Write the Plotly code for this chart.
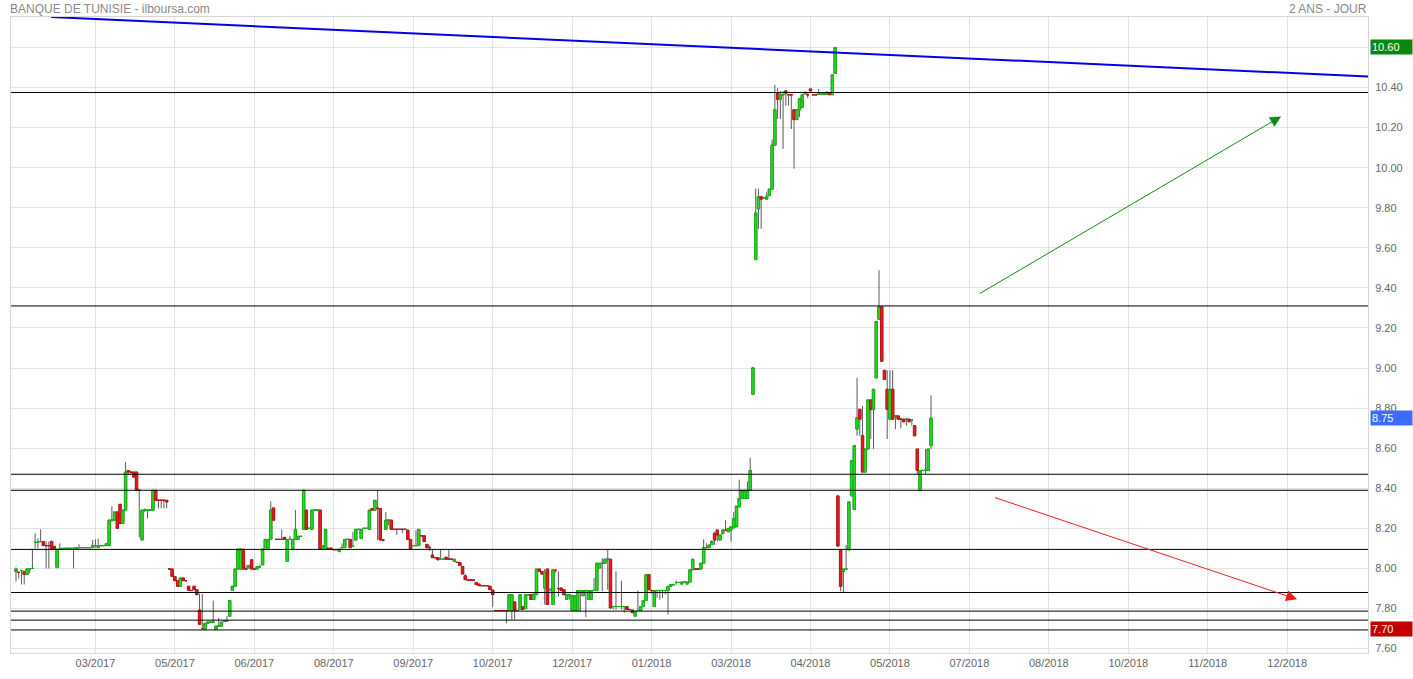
import plotly.graph_objects as go

title_left = "BANQUE DE TUNISIE - ilboursa.com"
title_right = "2 ANS - JOUR"

# daily OHLC (one entry per trading session)
O = [
 7.985, 7.98, 7.99, 7.985, 7.97, 7.997, 8.0, 8.13, 8.13, 8.134,
 8.134, 8.114, 8.114, 8.134, 8.11, 8.005, 8.096, 8.1, 8.1, 8.1,
 8.1, 8.1, 8.096, 8.104, 8.104, 8.104, 8.104, 8.104, 8.104, 8.114,
 8.104, 8.114, 8.114, 8.114, 8.114, 8.241, 8.241, 8.282, 8.32, 8.224,
 8.291, 8.489, 8.48, 8.481, 8.481, 8.39, 8.142, 8.291, 8.291, 8.291,
 8.291, 8.39, 8.34, 8.34, 8.34, 8.34, 7.997, 7.997, 7.96, 7.939,
 7.911, 7.952, 7.939, 7.911, 7.89, 7.911, 7.894, 7.792, 7.7, 7.696,
 7.726, 7.732, 7.732, 7.696, 7.712, 7.712, 7.737, 7.737, 7.762, 7.891,
 7.911, 7.997, 7.997, 8.096, 7.997, 8.002, 8.043, 7.997, 7.997, 8.008,
 8.018, 8.096, 8.096, 8.145, 8.302, 8.145, 8.145, 8.145, 8.155, 8.035,
 8.145, 8.096, 8.145, 8.145, 8.16, 8.195, 8.291, 8.2, 8.195, 8.291,
 8.291, 8.291, 8.096, 8.096, 8.1, 8.1, 8.094, 8.094, 8.084, 8.104,
 8.104, 8.145, 8.145, 8.11, 8.142, 8.195, 8.15, 8.2, 8.2, 8.195,
 8.299, 8.291, 8.3, 8.299, 8.142, 8.195, 8.241, 8.241, 8.195, 8.195,
 8.195, 8.195, 8.195, 8.191, 8.145, 8.114, 8.114, 8.114, 8.163, 8.163,
 8.12, 8.104, 8.067, 8.054, 8.054, 8.045, 8.048, 8.056, 8.046, 8.046,
 8.035, 8.03, 8.03, 8.01, 7.963, 7.942, 7.942, 7.942, 7.93, 7.922,
 7.914, 7.914, 7.914, 7.911, 7.892, 7.79, 7.79, 7.79, 7.79, 7.79,
 7.79, 7.79, 7.833, 7.79, 7.795, 7.81, 7.8, 7.869, 7.869, 7.845,
 7.869, 7.997, 7.985, 7.902, 7.997, 7.89, 7.82, 7.99, 7.9, 7.902,
 7.894, 7.845, 7.869, 7.79, 7.79, 7.79, 7.89, 7.864, 7.89, 7.845,
 7.845, 7.89, 7.89, 8.002, 8.026, 8.026, 8.046, 8.046, 7.81, 7.81,
 7.81, 7.81, 7.81, 7.81, 7.795, 7.792, 7.762, 7.79, 7.79, 7.81,
 7.84, 7.969, 7.89, 7.81, 7.89, 7.89, 7.89, 7.89, 7.89, 7.911,
 7.919, 7.93, 7.93, 7.922, 7.932, 7.922, 7.932, 7.993, 7.997, 7.997,
 7.997, 8.026, 8.104, 8.104, 8.12, 8.175, 8.192, 8.142, 8.175, 8.19,
 8.183, 8.192, 8.203, 8.208, 8.307, 8.349, 8.349, 8.349, 8.39, 8.869,
 9.541, 9.794, 9.855, 9.85, 9.843, 9.86, 9.893, 10.111, 10.372, 10.342,
 10.364, 10.383, 10.364, 10.364, 10.289, 10.24, 10.289, 10.302, 10.37, 10.364,
 10.393, 10.364, 10.364, 10.367, 10.367, 10.367, 10.367, 10.372, 10.364, 10.471,
 8.362, 8.092, 7.985, 7.997, 8.092, 8.362, 8.294, 8.695, 8.794, 8.662,
 8.481, 8.596, 8.841, 8.794, 8.951, 9.244, 9.306, 8.989, 8.894, 8.745,
 8.894, 8.761, 8.761, 8.745, 8.745, 8.745, 8.745, 8.74, 8.712, 8.596,
 8.391, 8.489, 8.49, 8.489, 8.613,
]
H = [
 8.005, 7.985, 7.99, 7.985, 8.0, 8.0, 8.096, 8.175, 8.15, 8.195,
 8.134, 8.134, 8.134, 8.14, 8.11, 8.096, 8.125, 8.1, 8.1, 8.105,
 8.1, 8.105, 8.105, 8.12, 8.104, 8.104, 8.104, 8.104, 8.142, 8.145,
 8.148, 8.114, 8.114, 8.124, 8.241, 8.31, 8.282, 8.282, 8.32, 8.291,
 8.53, 8.49, 8.48, 8.481, 8.481, 8.39, 8.291, 8.3, 8.291, 8.291,
 8.39, 8.39, 8.34, 8.34, 8.34, 8.34, 7.997, 7.997, 7.96, 7.939,
 7.952, 7.952, 7.939, 7.911, 7.89, 7.911, 7.894, 7.873, 7.873, 7.726,
 7.732, 7.732, 7.84, 7.712, 7.754, 7.732, 7.737, 7.762, 7.84, 7.911,
 7.997, 8.096, 8.096, 8.096, 8.015, 8.015, 8.043, 7.997, 8.008, 8.018,
 8.096, 8.145, 8.145, 8.335, 8.302, 8.145, 8.145, 8.195, 8.155, 8.145,
 8.163, 8.145, 8.291, 8.16, 8.16, 8.39, 8.291, 8.2, 8.291, 8.291,
 8.291, 8.291, 8.114, 8.195, 8.1, 8.106, 8.094, 8.094, 8.096, 8.125,
 8.145, 8.145, 8.145, 8.183, 8.195, 8.195, 8.195, 8.2, 8.2, 8.291,
 8.299, 8.34, 8.39, 8.299, 8.142, 8.282, 8.241, 8.241, 8.195, 8.195,
 8.195, 8.195, 8.195, 8.191, 8.145, 8.114, 8.191, 8.195, 8.163, 8.163,
 8.12, 8.114, 8.093, 8.054, 8.054, 8.093, 8.048, 8.056, 8.093, 8.046,
 8.046, 8.03, 8.03, 8.01, 7.972, 7.942, 7.942, 7.942, 7.93, 7.922,
 7.914, 7.914, 7.914, 7.911, 7.892, 7.79, 7.79, 7.79, 7.79, 7.79,
 7.869, 7.869, 7.833, 7.79, 7.869, 7.81, 7.869, 7.869, 7.869, 7.872,
 7.997, 7.997, 7.985, 7.997, 7.997, 7.902, 7.993, 7.997, 7.985, 7.902,
 7.894, 7.869, 7.869, 7.864, 7.864, 7.89, 7.89, 7.89, 7.89, 7.89,
 7.89, 7.952, 8.026, 8.026, 8.05, 8.046, 8.093, 8.046, 7.81, 7.985,
 7.81, 7.939, 7.81, 7.81, 7.795, 7.792, 7.783, 7.89, 7.81, 7.84,
 7.969, 7.969, 7.89, 7.89, 7.89, 7.89, 7.89, 7.89, 7.911, 7.919,
 7.919, 7.939, 7.93, 7.932, 7.932, 7.932, 7.993, 8.046, 7.997, 7.997,
 8.026, 8.145, 8.125, 8.117, 8.142, 8.183, 8.192, 8.167, 8.192, 8.241,
 8.2, 8.208, 8.282, 8.311, 8.443, 8.39, 8.39, 8.434, 8.552, 9.001,
 9.896, 9.896, 9.855, 9.85, 9.876, 9.893, 10.141, 10.413, 10.397, 10.383,
 10.383, 10.383, 10.364, 10.364, 10.289, 10.289, 10.344, 10.364, 10.383, 10.372,
 10.393, 10.364, 10.364, 10.393, 10.367, 10.367, 10.383, 10.372, 10.463, 10.6,
 8.362, 8.092, 7.997, 8.117, 8.332, 8.538, 8.613, 8.951, 8.794, 8.811,
 8.596, 8.841, 8.841, 8.894, 9.232, 9.488, 9.306, 8.989, 8.989, 8.989,
 8.989, 8.761, 8.761, 8.745, 8.745, 8.745, 8.745, 8.74, 8.712, 8.596,
 8.489, 8.489, 8.596, 8.596, 8.864,
]
L = [
 7.936, 7.95, 7.92, 7.92, 7.97, 7.975, 8.0, 8.1, 8.1, 8.134,
 8.114, 8.0, 8.0, 8.096, 8.096, 8.0, 8.096, 8.1, 8.1, 8.1,
 8.1, 8.0, 8.096, 8.1, 8.104, 8.104, 8.104, 8.104, 8.104, 8.104,
 8.104, 8.114, 8.114, 8.114, 8.114, 8.233, 8.241, 8.2, 8.224, 8.224,
 8.291, 8.47, 8.47, 8.456, 8.391, 8.155, 8.142, 8.28, 8.249, 8.291,
 8.291, 8.34, 8.3, 8.3, 8.3, 8.3, 7.997, 7.96, 7.939, 7.911,
 7.911, 7.939, 7.939, 7.891, 7.89, 7.894, 7.869, 7.721, 7.696, 7.696,
 7.726, 7.732, 7.732, 7.696, 7.712, 7.712, 7.737, 7.737, 7.762, 7.891,
 7.911, 7.997, 7.997, 7.997, 7.997, 8.002, 7.997, 7.997, 7.997, 8.002,
 8.018, 8.096, 8.096, 8.145, 8.241, 8.145, 8.145, 8.145, 8.145, 8.035,
 8.145, 8.096, 8.145, 8.145, 8.16, 8.195, 8.195, 8.2, 8.195, 8.291,
 8.291, 8.096, 8.096, 8.096, 8.1, 8.094, 8.094, 8.094, 8.084, 8.104,
 8.104, 8.145, 8.104, 8.11, 8.142, 8.195, 8.15, 8.2, 8.2, 8.195,
 8.291, 8.291, 8.142, 8.142, 8.134, 8.195, 8.216, 8.195, 8.195, 8.167,
 8.195, 8.175, 8.195, 8.145, 8.096, 8.114, 8.114, 8.114, 8.163, 8.134,
 8.1, 8.088, 8.054, 8.054, 8.043, 8.043, 8.048, 8.046, 8.046, 8.046,
 8.035, 8.03, 8.015, 7.972, 7.944, 7.942, 7.942, 7.942, 7.919, 7.914,
 7.914, 7.914, 7.914, 7.894, 7.807, 7.79, 7.79, 7.79, 7.79, 7.726,
 7.79, 7.745, 7.745, 7.79, 7.795, 7.795, 7.8, 7.869, 7.845, 7.845,
 7.869, 7.985, 7.972, 7.82, 7.82, 7.886, 7.82, 7.977, 7.86, 7.89,
 7.869, 7.845, 7.845, 7.79, 7.79, 7.79, 7.783, 7.864, 7.757, 7.845,
 7.845, 7.89, 7.89, 8.002, 7.886, 8.026, 7.894, 7.8, 7.795, 7.795,
 7.81, 7.795, 7.779, 7.795, 7.795, 7.779, 7.762, 7.79, 7.79, 7.81,
 7.84, 7.894, 7.873, 7.81, 7.853, 7.845, 7.853, 7.87, 7.77, 7.911,
 7.919, 7.919, 7.93, 7.922, 7.932, 7.922, 7.932, 7.993, 7.997, 7.997,
 7.997, 8.026, 8.101, 8.104, 8.12, 8.117, 8.134, 8.142, 8.167, 8.19,
 8.183, 8.134, 8.203, 8.208, 8.307, 8.349, 8.349, 8.349, 8.39, 8.869,
 9.541, 9.695, 9.695, 9.85, 9.843, 9.86, 9.893, 10.111, 10.243, 10.243,
 10.094, 10.309, 10.309, 10.193, 9.995, 10.24, 10.253, 10.302, 10.364, 10.347,
 10.383, 10.364, 10.364, 10.367, 10.367, 10.367, 10.367, 10.364, 10.364, 10.471,
 8.112, 7.886, 7.878, 7.997, 8.092, 8.362, 8.294, 8.662, 8.662, 8.481,
 8.481, 8.596, 8.646, 8.596, 8.951, 9.244, 9.034, 8.943, 8.646, 8.745,
 8.745, 8.695, 8.745, 8.699, 8.732, 8.712, 8.732, 8.712, 8.662, 8.472,
 8.391, 8.489, 8.472, 8.489, 8.596,
]
C = [
 7.997, 7.98, 7.99, 7.97, 7.997, 7.997, 8.0, 8.13, 8.13, 8.134,
 8.114, 8.114, 8.114, 8.096, 8.096, 8.096, 8.096, 8.1, 8.1, 8.1,
 8.1, 8.1, 8.104, 8.104, 8.104, 8.104, 8.104, 8.104, 8.114, 8.114,
 8.114, 8.114, 8.114, 8.124, 8.241, 8.241, 8.282, 8.2, 8.224, 8.291,
 8.481, 8.481, 8.48, 8.456, 8.391, 8.39, 8.291, 8.291, 8.291, 8.291,
 8.39, 8.34, 8.34, 8.34, 8.34, 8.332, 7.997, 7.96, 7.939, 7.911,
 7.952, 7.939, 7.939, 7.891, 7.89, 7.894, 7.869, 7.721, 7.7, 7.726,
 7.732, 7.732, 7.732, 7.712, 7.712, 7.732, 7.737, 7.737, 7.84, 7.911,
 7.997, 8.096, 8.096, 7.997, 7.997, 8.015, 7.997, 7.997, 8.008, 8.008,
 8.096, 8.145, 8.145, 8.291, 8.241, 8.145, 8.145, 8.145, 8.145, 8.145,
 8.145, 8.145, 8.195, 8.16, 8.16, 8.39, 8.195, 8.2, 8.291, 8.291,
 8.291, 8.096, 8.114, 8.195, 8.1, 8.1, 8.094, 8.094, 8.096, 8.104,
 8.145, 8.145, 8.104, 8.11, 8.195, 8.195, 8.195, 8.2, 8.2, 8.291,
 8.291, 8.34, 8.3, 8.142, 8.142, 8.241, 8.241, 8.195, 8.195, 8.195,
 8.195, 8.195, 8.195, 8.145, 8.096, 8.114, 8.114, 8.195, 8.163, 8.134,
 8.104, 8.104, 8.054, 8.054, 8.043, 8.045, 8.048, 8.046, 8.046, 8.046,
 8.046, 8.03, 8.015, 7.972, 7.944, 7.942, 7.942, 7.942, 7.919, 7.914,
 7.914, 7.914, 7.914, 7.894, 7.869, 7.79, 7.79, 7.79, 7.79, 7.79,
 7.869, 7.869, 7.79, 7.79, 7.869, 7.795, 7.869, 7.869, 7.845, 7.872,
 7.997, 7.985, 7.972, 7.985, 7.82, 7.89, 7.993, 7.99, 7.9, 7.89,
 7.869, 7.869, 7.869, 7.864, 7.864, 7.89, 7.89, 7.89, 7.89, 7.89,
 7.89, 7.89, 8.026, 8.026, 8.026, 8.046, 8.046, 7.803, 7.81, 7.81,
 7.81, 7.81, 7.81, 7.795, 7.795, 7.779, 7.783, 7.79, 7.81, 7.84,
 7.969, 7.894, 7.89, 7.89, 7.89, 7.89, 7.89, 7.89, 7.911, 7.919,
 7.919, 7.93, 7.93, 7.932, 7.932, 7.932, 7.993, 8.046, 7.997, 7.997,
 8.026, 8.104, 8.104, 8.117, 8.134, 8.142, 8.167, 8.167, 8.192, 8.19,
 8.2, 8.208, 8.249, 8.311, 8.349, 8.39, 8.39, 8.39, 8.489, 9.001,
 9.774, 9.855, 9.843, 9.85, 9.855, 9.893, 10.113, 10.289, 10.342, 10.364,
 10.364, 10.372, 10.364, 10.364, 10.24, 10.289, 10.344, 10.364, 10.37, 10.364,
 10.383, 10.364, 10.364, 10.367, 10.367, 10.367, 10.367, 10.364, 10.463, 10.6,
 8.112, 7.911, 7.997, 7.997, 8.332, 8.538, 8.613, 8.753, 8.745, 8.481,
 8.596, 8.841, 8.794, 8.894, 9.232, 9.306, 9.034, 8.943, 8.794, 8.894,
 8.745, 8.761, 8.745, 8.745, 8.732, 8.745, 8.732, 8.74, 8.662, 8.489,
 8.489, 8.489, 8.49, 8.596, 8.75,
]

if not (len(O) == len(H) == len(L) == len(C)):
    raise SystemExit(f"length mismatch {len(O)} {len(H)} {len(L)} {len(C)}")

sessions = list(range(len(O)))

# x axis: month labels placed every 29 sessions
tick_sessions = [29, 58, 87, 116, 145, 174, 203, 232, 261, 290, 319, 348, 377, 406, 435, 464]
tick_labels = ["03/2017", "05/2017", "06/2017", "08/2017", "09/2017", "10/2017",
               "12/2017", "01/2018", "03/2018", "04/2018", "05/2018", "07/2018",
               "08/2018", "10/2018", "11/2018", "12/2018"]
# the 10.60 grid line keeps no label: the last-high tag sits on it
price_ticks = [7.6, 7.8, 8.0, 8.2, 8.4, 8.6, 8.8, 9.0, 9.2, 9.4, 9.6, 9.8, 10.0, 10.2, 10.4, 10.6]
price_labels = ["7.60", "7.80", "8.00", "8.20", "8.40", "8.60", "8.80", "9.00", "9.20",
                "9.40", "9.60", "9.80", "10.00", "10.20", "10.40", ""]

# drawn analysis
support_levels = [10.375, 9.31, 8.47, 8.39, 8.095, 7.88, 7.787, 7.742, 7.693]
trend_x = [12.8, 493.5]
trend_y = [10.752, 10.455]
up_arrow = {"x0": 351.3, "y0": 9.368, "x1": 461.8, "y1": 10.256}
down_arrow = {"x0": 356.8, "y0": 8.356, "x1": 467.6, "y1": 7.846}

FONT = "Liberation Sans, Arial, sans-serif"

# body extents derived from open/close (bodies drawn over grey wicks)
body_top = [max(a, b) for a, b in zip(O, C)]
body_bot = [min(a, b) for a, b in zip(O, C)]

fig = go.Figure()
fig.add_trace(go.Candlestick(
    x=sessions, open=O, high=H, low=L, close=C,
    increasing=dict(line=dict(color="#5a5a5a", width=1), fillcolor="#5a5a5a"),
    decreasing=dict(line=dict(color="#5a5a5a", width=1), fillcolor="#5a5a5a"),
    whiskerwidth=0, showlegend=False, hoverinfo="skip",
))
fig.add_trace(go.Candlestick(
    x=sessions, open=O, high=body_top, low=body_bot, close=C,
    increasing=dict(line=dict(color="#17b417", width=1), fillcolor="#22e022"),
    decreasing=dict(line=dict(color="#c41414", width=1), fillcolor="#e81c1c"),
    whiskerwidth=0, showlegend=False, hoverinfo="skip",
))

shapes = []
for lv in support_levels:
    shapes.append(dict(type="line", xref="paper", x0=0, x1=1, yref="y", y0=lv, y1=lv,
                       line=dict(color="#000000", width=1)))
shapes.append(dict(type="line", xref="x", yref="y", x0=trend_x[0], x1=trend_x[1],
                   y0=trend_y[0], y1=trend_y[1], line=dict(color="#0000ee", width=2)))

annotations = [
    dict(text=title_left, xref="paper", yref="paper", x=0, y=1, xanchor="left",
         yanchor="middle", yshift=8, xshift=-3, showarrow=False,
         font=dict(family=FONT, size=12, color="#888888")),
    dict(text=title_right, xref="paper", yref="paper", x=1, y=1, xanchor="right",
         yanchor="middle", yshift=8, xshift=1, showarrow=False,
         font=dict(family=FONT, size=12, color="#888888")),
]
for arr, col in ((up_arrow, "#138a13"), (down_arrow, "#f01c1c")):
    annotations.append(dict(x=arr["x1"], y=arr["y1"], ax=arr["x0"], ay=arr["y0"],
                            xref="x", yref="y", axref="x", ayref="y", text="",
                            showarrow=True, arrowhead=2, arrowsize=2.2, arrowwidth=1,
                            arrowcolor=col))

tags = [(max(H), "#0a880a"), (C[-1], "#3a6dff"), (min(L), "#c20000")]
for val, col in tags:
    annotations.append(dict(text=f"{val:.2f}", xref="paper", yref="y", x=1, y=val,
                            xanchor="left", yanchor="middle", xshift=2, showarrow=False,
                            bgcolor=col, width=39, height=12, align="left", borderpad=1,
                            font=dict(family=FONT, size=11, color="#ffffff")))

fig.update_layout(
    width=1413, height=679,
    margin=dict(l=10, r=45, t=17, b=22),
    paper_bgcolor="#ffffff", plot_bgcolor="#ffffff",
    shapes=shapes, annotations=annotations,
    boxmode="overlay", boxgap=0.15, boxgroupgap=0,
    xaxis=dict(range=[-1.82, 493.5], tickmode="array", tickvals=tick_sessions,
               ticktext=tick_labels, showgrid=True, gridcolor="#e2e2e2", gridwidth=1,
               zeroline=False, showline=True, linecolor="#d6d6d6", linewidth=1, mirror=True,
               ticks="", tickfont=dict(family=FONT, size=11, color="#666666"),
               rangeslider=dict(visible=False)),
    yaxis=dict(side="right", range=[7.578, 10.752], tickmode="array", tickvals=price_ticks,
               ticktext=price_labels, showgrid=True, gridcolor="#e2e2e2", gridwidth=1,
               zeroline=False, showline=True, linecolor="#d6d6d6", linewidth=1, mirror=True,
               ticks="", ticklabelstandoff=4,
               tickfont=dict(family=FONT, size=11, color="#666666")),
)

fig.write_html("out.html", config={"displayModeBar": False},
               post_script="document.body.style.margin='0';document.body.style.padding='0';")
